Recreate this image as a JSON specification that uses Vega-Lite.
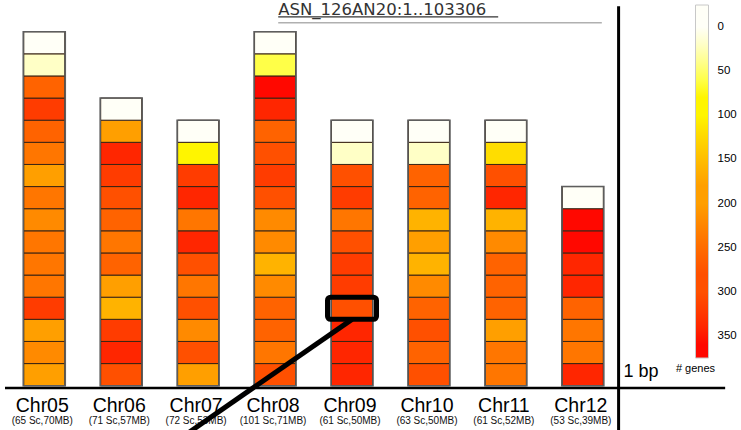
{
  "$schema": "https://vega.github.io/schema/vega-lite/v6.json",
  "width": 741,
  "height": 430,
  "autosize": "none",
  "padding": 0,
  "background": "white",
  "config": {"view": {"stroke": null}, "font": "Liberation Sans"},
  "datasets": {
    "cells": [
      {"chr":5,"start":0,"end":4.5,"genes":191},{"chr":5,"start":4.5,"end":9,"genes":207},{"chr":5,"start":9,"end":13.5,"genes":184},{"chr":5,"start":13.5,"end":18,"genes":309},{"chr":5,"start":18,"end":22.5,"genes":241},{"chr":5,"start":22.5,"end":27,"genes":236},{"chr":5,"start":27,"end":31.5,"genes":229},{"chr":5,"start":31.5,"end":36,"genes":214},{"chr":5,"start":36,"end":40.5,"genes":233},{"chr":5,"start":40.5,"end":45,"genes":196},{"chr":5,"start":45,"end":49.5,"genes":244},{"chr":5,"start":49.5,"end":54,"genes":262},{"chr":5,"start":54,"end":58.5,"genes":317},{"chr":5,"start":58.5,"end":63,"genes":258},{"chr":5,"start":63,"end":67.5,"genes":14},{"chr":5,"start":67.5,"end":72,"genes":0},
      {"chr":6,"start":0,"end":4.5,"genes":283},{"chr":6,"start":4.5,"end":9,"genes":341},{"chr":6,"start":9,"end":13.5,"genes":311},{"chr":6,"start":13.5,"end":18,"genes":162},{"chr":6,"start":18,"end":22.5,"genes":189},{"chr":6,"start":22.5,"end":27,"genes":266},{"chr":6,"start":27,"end":31.5,"genes":238},{"chr":6,"start":31.5,"end":36,"genes":259},{"chr":6,"start":36,"end":40.5,"genes":291},{"chr":6,"start":40.5,"end":45,"genes":306},{"chr":6,"start":45,"end":49.5,"genes":337},{"chr":6,"start":49.5,"end":54,"genes":186},{"chr":6,"start":54,"end":58.5,"genes":0},
      {"chr":7,"start":0,"end":4.5,"genes":193},{"chr":7,"start":4.5,"end":9,"genes":289},{"chr":7,"start":9,"end":13.5,"genes":211},{"chr":7,"start":13.5,"end":18,"genes":284},{"chr":7,"start":18,"end":22.5,"genes":236},{"chr":7,"start":22.5,"end":27,"genes":278},{"chr":7,"start":27,"end":31.5,"genes":334},{"chr":7,"start":31.5,"end":36,"genes":231},{"chr":7,"start":36,"end":40.5,"genes":342},{"chr":7,"start":40.5,"end":45,"genes":312},{"chr":7,"start":45,"end":49.5,"genes":92},{"chr":7,"start":49.5,"end":54,"genes":0},
      {"chr":8,"start":0,"end":4.5,"genes":286},{"chr":8,"start":4.5,"end":9,"genes":247},{"chr":8,"start":9,"end":13.5,"genes":256},{"chr":8,"start":13.5,"end":18,"genes":263},{"chr":8,"start":18,"end":22.5,"genes":216},{"chr":8,"start":22.5,"end":27,"genes":166},{"chr":8,"start":27,"end":31.5,"genes":212},{"chr":8,"start":31.5,"end":36,"genes":219},{"chr":8,"start":36,"end":40.5,"genes":281},{"chr":8,"start":40.5,"end":45,"genes":308},{"chr":8,"start":45,"end":49.5,"genes":293},{"chr":8,"start":49.5,"end":54,"genes":268},{"chr":8,"start":54,"end":58.5,"genes":339},{"chr":8,"start":58.5,"end":63,"genes":366},{"chr":8,"start":63,"end":67.5,"genes":58},{"chr":8,"start":67.5,"end":72,"genes":0},
      {"chr":9,"start":0,"end":4.5,"genes":346},{"chr":9,"start":4.5,"end":9,"genes":338},{"chr":9,"start":9,"end":13.5,"genes":331},{"chr":9,"start":13.5,"end":18,"genes":286},{"chr":9,"start":18,"end":22.5,"genes":309},{"chr":9,"start":22.5,"end":27,"genes":318},{"chr":9,"start":27,"end":31.5,"genes":282},{"chr":9,"start":31.5,"end":36,"genes":242},{"chr":9,"start":36,"end":40.5,"genes":304},{"chr":9,"start":40.5,"end":45,"genes":279},{"chr":9,"start":45,"end":49.5,"genes":17},{"chr":9,"start":49.5,"end":54,"genes":0},
      {"chr":10,"start":0,"end":4.5,"genes":288},{"chr":10,"start":4.5,"end":9,"genes":266},{"chr":10,"start":9,"end":13.5,"genes":277},{"chr":10,"start":13.5,"end":18,"genes":259},{"chr":10,"start":18,"end":22.5,"genes":209},{"chr":10,"start":22.5,"end":27,"genes":158},{"chr":10,"start":27,"end":31.5,"genes":183},{"chr":10,"start":31.5,"end":36,"genes":161},{"chr":10,"start":36,"end":40.5,"genes":264},{"chr":10,"start":40.5,"end":45,"genes":271},{"chr":10,"start":45,"end":49.5,"genes":12},{"chr":10,"start":49.5,"end":54,"genes":0},
      {"chr":11,"start":0,"end":4.5,"genes":239},{"chr":11,"start":4.5,"end":9,"genes":228},{"chr":11,"start":9,"end":13.5,"genes":181},{"chr":11,"start":13.5,"end":18,"genes":257},{"chr":11,"start":18,"end":22.5,"genes":262},{"chr":11,"start":22.5,"end":27,"genes":269},{"chr":11,"start":27,"end":31.5,"genes":204},{"chr":11,"start":31.5,"end":36,"genes":164},{"chr":11,"start":36,"end":40.5,"genes":336},{"chr":11,"start":40.5,"end":45,"genes":284},{"chr":11,"start":45,"end":49.5,"genes":121},{"chr":11,"start":49.5,"end":54,"genes":0},
      {"chr":12,"start":0,"end":4.5,"genes":344},{"chr":12,"start":4.5,"end":9,"genes":234},{"chr":12,"start":9,"end":13.5,"genes":243},{"chr":12,"start":13.5,"end":18,"genes":261},{"chr":12,"start":18,"end":22.5,"genes":333},{"chr":12,"start":22.5,"end":27,"genes":347},{"chr":12,"start":27,"end":31.5,"genes":358},{"chr":12,"start":31.5,"end":36,"genes":371},{"chr":12,"start":36,"end":40.5,"genes":0}
    ],
    "chroms": [
      {"chr":5,"label":"Chr05","sub":"(65 Sc,70MB)","base":0,"length":72},
      {"chr":6,"label":"Chr06","sub":"(71 Sc,57MB)","base":0,"length":58.5},
      {"chr":7,"label":"Chr07","sub":"(72 Sc,53MB)","base":0,"length":54},
      {"chr":8,"label":"Chr08","sub":"(101 Sc,71MB)","base":0,"length":72},
      {"chr":9,"label":"Chr09","sub":"(61 Sc,50MB)","base":0,"length":54},
      {"chr":10,"label":"Chr10","sub":"(63 Sc,50MB)","base":0,"length":54},
      {"chr":11,"label":"Chr11","sub":"(61 Sc,52MB)","base":0,"length":54},
      {"chr":12,"label":"Chr12","sub":"(53 Sc,39MB)","base":0,"length":40.5}
    ],
    "highlight": [{"chr":9,"start":13.5,"end":18}],
    "callout": [{"chr":9,"mb":13.5,"toChr":6.551,"toMb":-13.08}],
    "frame": [{"vx":12.465,"vtop":77.2,"vbottom":-9.01,"hleft":4.4897,"hright":13.85,"hy":-0.47}],
    "titleRow": [{"x":8.041,"xEnd":10.9,"xLineEnd":12.247,"y":75.35,"uy":75.0,"ly":73.83,"text":"ASN_126AN20:1..103306"}],
    "unit": [{"x":12.529,"y":1.77,"text":"1 bp"}]
  },
  "layer": [
    {
      "data": {"name":"cells"},
      "mark": {"type":"bar","width":41,"stroke":"#3a2414","strokeWidth":1},
      "encoding": {
        "x": {"field":"chr","type":"quantitative","scale":{"domain":[4.4897,13.991],"nice":false,"zero":false},"axis":null},
        "y": {"field":"start","type":"quantitative","scale":{"domain":[-9.01,78.447],"nice":false,"zero":false},"axis":null},
        "y2": {"field":"end"},
        "color": {
          "field":"genes","type":"quantitative",
          "scale": {
            "interpolate":"rgb",
            "domain":[375,350.5,350,325.5,325,300.5,300,275.5,275,250.5,250,225.5,225,200.5,200,175.5,175,150.5,150,125.5,125,100.5,100,75.5,75,50.5,50,25.5,25,0.5,0,-25],
            "range":["#FF0800","#FF0800","#FF2600","#FF2600","#FF3C00","#FF3C00","#FF5000","#FF5000","#FF6300","#FF6300","#FF7600","#FF7600","#FF8A00","#FF8A00","#FF9F00","#FF9F00","#FFB300","#FFB300","#FFC800","#FFC800","#FFDD00","#FFDD00","#FFF500","#FFF500","#FFFF48","#FFFF48","#FFFF8A","#FFFF8A","#FFFFC6","#FFFFC6","#FFFFF7","#FFFFF7"]
          },
          "legend": {
            "title":"# genes","orient":"none","legendX":675.5,"legendY":5,"direction":"vertical",
            "gradientLength":353,"gradientThickness":13,"gradientStrokeColor":"#c8c8c8","gradientStrokeWidth":1,
            "values":[0,50,100,150,200,250,300,350],
            "labelFont":"Liberation Sans","labelFontSize":11.5,"labelColor":"#000","labelOffset":9,
            "titleFont":"Liberation Sans","titleFontSize":11,"titleFontWeight":"normal","titleColor":"#000",
            "titleOrient":"bottom","titleAnchor":"start","titleAlign":"center","titlePadding":4
          }
        }
      }
    },
    {
      "data": {"name":"chroms"},
      "mark": {"type":"bar","width":42,"fillOpacity":0,"stroke":"#5e5e5e","strokeWidth":1.6},
      "encoding": {
        "x": {"field":"chr","type":"quantitative"},
        "y": {"field":"base","type":"quantitative"},
        "y2": {"field":"length"}
      }
    },
    {
      "data": {"name":"chroms"},
      "mark": {"type":"text","fontSize":19.5,"baseline":"alphabetic","align":"center","dy":26.6,"dx":-2,"color":"#000"},
      "encoding": {
        "x": {"field":"chr","type":"quantitative"},
        "y": {"field":"base","type":"quantitative"},
        "text": {"field":"label"}
      }
    },
    {
      "data": {"name":"chroms"},
      "mark": {"type":"text","fontSize":10,"baseline":"alphabetic","align":"center","dy":38.5,"dx":-2,"color":"#111"},
      "encoding": {
        "x": {"field":"chr","type":"quantitative"},
        "y": {"field":"base","type":"quantitative"},
        "text": {"field":"sub"}
      }
    },
    {
      "data": {"name":"callout"},
      "mark": {"type":"rule","strokeWidth":5,"color":"#000"},
      "encoding": {
        "x": {"field":"chr","type":"quantitative"},
        "y": {"field":"mb","type":"quantitative"},
        "x2": {"field":"toChr"},
        "y2": {"field":"toMb"}
      }
    },
    {
      "data": {"name":"highlight"},
      "mark": {"type":"bar","width":49,"fillOpacity":0,"stroke":"#000","strokeWidth":5,"cornerRadius":3},
      "encoding": {
        "x": {"field":"chr","type":"quantitative"},
        "y": {"field":"start","type":"quantitative"},
        "y2": {"field":"end"}
      }
    },
    {
      "data": {"name":"frame"},
      "mark": {"type":"rule","strokeWidth":3,"color":"#000"},
      "encoding": {
        "x": {"field":"vx","type":"quantitative"},
        "y": {"field":"vtop","type":"quantitative"},
        "y2": {"field":"vbottom"}
      }
    },
    {
      "data": {"name":"frame"},
      "mark": {"type":"rule","strokeWidth":2.5,"color":"#000"},
      "encoding": {
        "x": {"field":"hleft","type":"quantitative"},
        "x2": {"field":"hright"},
        "y": {"field":"hy","type":"quantitative"}
      }
    },
    {
      "data": {"name":"unit"},
      "mark": {"type":"text","fontSize":18,"align":"left","baseline":"alphabetic","color":"#000"},
      "encoding": {
        "x": {"field":"x","type":"quantitative"},
        "y": {"field":"y","type":"quantitative"},
        "text": {"field":"text"}
      }
    },
    {
      "data": {"name":"titleRow"},
      "mark": {"type":"text","font":"DejaVu Sans","fontSize":16.5,"align":"left","baseline":"alphabetic","color":"#333"},
      "encoding": {
        "x": {"field":"x","type":"quantitative"},
        "y": {"field":"y","type":"quantitative"},
        "text": {"field":"text"}
      }
    },
    {
      "data": {"name":"titleRow"},
      "mark": {"type":"rule","strokeWidth":1.3,"color":"#333"},
      "encoding": {
        "x": {"field":"x","type":"quantitative"},
        "x2": {"field":"xEnd"},
        "y": {"field":"uy","type":"quantitative"}
      }
    },
    {
      "data": {"name":"titleRow"},
      "mark": {"type":"rule","strokeWidth":1.5,"color":"#b0b0b0"},
      "encoding": {
        "x": {"field":"x","type":"quantitative"},
        "x2": {"field":"xLineEnd"},
        "y": {"field":"ly","type":"quantitative"}
      }
    }
  ]
}
